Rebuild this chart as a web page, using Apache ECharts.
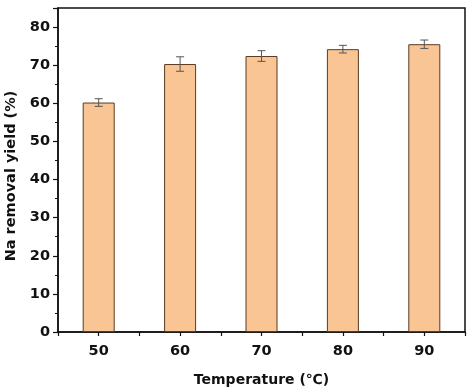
<!DOCTYPE html>
<html>
<head>
<meta charset="utf-8">
<script src="https://cdn.jsdelivr.net/npm/echarts@6/dist/echarts.min.js"></script>
<style>
  html, body { margin: 0; padding: 0; background: #fff; }
  #chart { width: 470px; height: 391px; }
</style>
</head>
<body>
<div id="chart"></div>
<script>
    var temps = [50, 60, 70, 80, 90];
    var yields = [60.2, 70.3, 72.4, 74.2, 75.5];
    var errs = [1.0, 1.9, 1.4, 1.0, 1.1];
    var yTicks = [0, 10, 20, 30, 40, 50, 60, 70, 80];

    var font = '"DejaVu Sans", Arial, sans-serif';
    var myChart = echarts.init(document.getElementById('chart'));

    var barData = temps.map(function (t, i) { return [t, yields[i]]; });
    var errData = temps.map(function (t, i) { return [t, yields[i] - errs[i], yields[i] + errs[i]]; });

    var option = {
        animation: false,
        grid: {
            left: 58, right: 5, top: 8, bottom: 59,
            outerBoundsMode: 'none',
            containLabel: false,
            show: true, borderColor: '#111', borderWidth: 1.5, backgroundColor: 'transparent'
        },
        xAxis: {
            type: 'value',
            min: 45, max: 95, interval: 5,
            name: 'Temperature (℃)',
            nameLocation: 'middle',
            nameGap: 41,
            nameTextStyle: { fontFamily: font, fontWeight: 'bold', fontSize: 14, color: '#111' },
            axisLine: { lineStyle: { color: '#111', width: 1.5 } },
            axisTick: { show: true, length: 4, lineStyle: { color: '#111', width: 1.2 } },
            axisLabel: {
                margin: 12,
                fontFamily: font, fontWeight: 'bold', fontSize: 14.5, color: '#111',
                formatter: function (v) { return temps.indexOf(v) >= 0 ? String(v) : ''; }
            },
            splitLine: { show: false }
        },
        yAxis: {
            type: 'value',
            min: 0, max: 85, interval: 10,
            name: 'Na removal yield (%)',
            nameLocation: 'middle',
            nameGap: 33,
            nameTextStyle: { fontFamily: font, fontWeight: 'bold', fontSize: 14.5, color: '#111', padding: [0, 12, 0, 0] },
            axisLine: { show: true, lineStyle: { color: '#111', width: 1.5 } },
            axisTick: { show: true, length: 5, lineStyle: { color: '#111', width: 1.2 } },
            minorTick: { show: true, splitNumber: 2, length: 3, lineStyle: { color: '#111', width: 1 } },
            axisLabel: {
                margin: 8,
                fontFamily: font, fontWeight: 'bold', fontSize: 14.5, color: '#111',
                formatter: function (v) { return yTicks.indexOf(v) >= 0 ? String(v) : ''; }
            },
            splitLine: { show: false }
        },
        series: [
            {
                type: 'bar',
                data: barData,
                barWidth: 32,
                itemStyle: { color: '#F9C595', borderColor: '#5a3b22', borderWidth: 1 }
            },
            {
                type: 'custom',
                data: errData,
                z: 5,
                renderItem: function (params, api) {
                    var x = api.value(0);
                    var lo = api.coord([x, api.value(1)]);
                    var hi = api.coord([x, api.value(2)]);
                    var w = 4;
                    var style = { stroke: '#555', lineWidth: 1 };
                    return {
                        type: 'group',
                        children: [
                            { type: 'line', shape: { x1: hi[0], y1: hi[1], x2: lo[0], y2: lo[1] }, style: style },
                            { type: 'line', shape: { x1: hi[0] - w, y1: hi[1], x2: hi[0] + w, y2: hi[1] }, style: style },
                            { type: 'line', shape: { x1: lo[0] - w, y1: lo[1], x2: lo[0] + w, y2: lo[1] }, style: style }
                        ]
                    };
                }
            }
        ]
    };
    myChart.setOption(option);
</script>
</body>
</html>
